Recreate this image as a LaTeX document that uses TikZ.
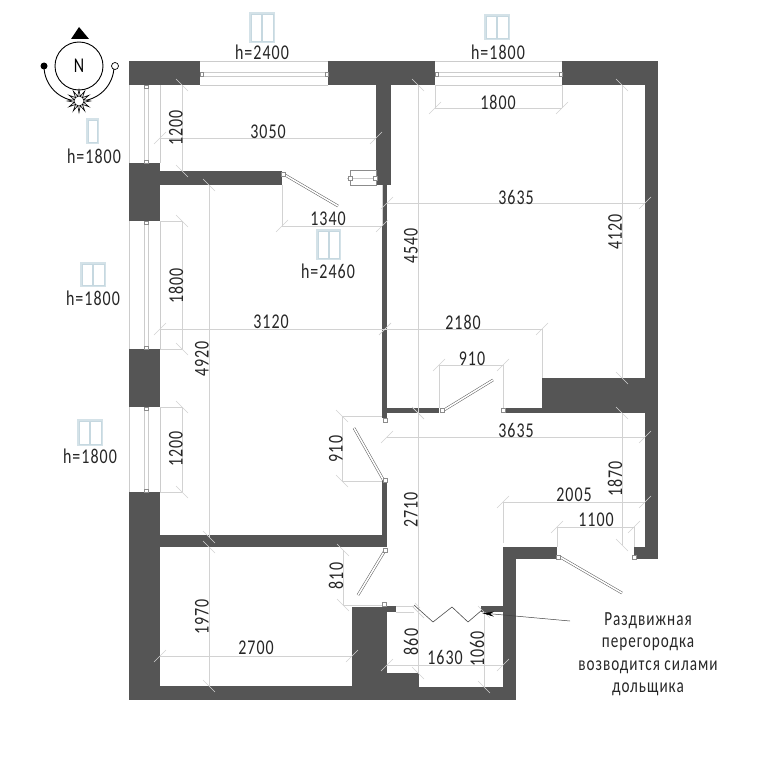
\documentclass[tikz,border=0pt]{standalone}
\usepackage{fontspec}
\setmainfont[FakeStretch=0.76,LetterSpace=5]{Carlito}
\usetikzlibrary{arrows.meta,shapes.geometric}
\definecolor{wallgray}{HTML}{555555}
\definecolor{iconblue}{HTML}{C6D8E0}
\tikzset{
	wall/.style={fill=wallgray},
	dimline/.style={draw=gray!35, line width=0.6pt},
	dimtext/.style={font=\fontsize{21}{21}\selectfont, inner sep=0pt, text=black!85},
	winline/.style={draw=gray!40, line width=0.5pt},
	leaf/.style={draw=black!65, double=white, double distance=1.6pt, line width=0.5pt},
	hinge/.style={draw=black!45, fill=white, line width=0.5pt},
	pane/.style={draw=iconblue, fill=white, line width=0.7pt}
}
\begin{document}
\begin{tikzpicture}[x=1pt, y=-1pt]
	\useasboundingbox (0,0) rectangle (768,768);

	% walls
	\foreach \xa/\ya/\xb/\yb in {129/61/200/85, 328/61/435/85, 562/61/658/85, 645/85/658/559,
		634/547/645/559, 542/378/645/413, 503/408/542/413, 376/85/391/185, 382/185/387/418,
		387/408/439/413, 129/163/160/221, 160/171/282/185, 129/349/160/407, 129/492/160/700,
		160/535/387/547, 382/480/387/547, 129/686/352/700, 352/607/387/700, 387/606/396/612,
		387/673/419/700, 419/687/516/700, 503/547/516/700, 503/547/557/559, 481/606/503/612}
		\fill[wall] (\xa,\ya) rectangle (\xb,\yb);

	% windows
	\foreach \xa/\xb in {200/328, 435/562} {
		\draw[winline] (\xa,61) -- (\xb,61) (\xa,85) -- (\xb,85);
		\draw[winline] (\xa,72) -- (\xb,72) (\xa,76) -- (\xb,76);
		\draw[hinge] (\xa,72) rectangle +(3,4);
		\draw[hinge] (\xb,72) rectangle +(-3,4);
	}
	\foreach \ya/\yb in {85/163, 221/349, 407/492} {
		\draw[winline] (129,\ya) -- (129,\yb) (160,\ya) -- (160,\yb);
		\draw[winline] (144,\ya) -- (144,\yb) (148,\ya) -- (148,\yb);
		\draw[hinge] (144,\ya) rectangle +(4,3);
		\draw[hinge] (144,\yb) rectangle +(4,-3);
	}
	\draw[hinge] (350,170) rectangle (376,185);
	\draw[winline] (347,178) -- (376,178);
	\draw[hinge] (348,176) rectangle +(4,4);
	\draw[hinge] (373,176) rectangle +(4,4);

	% dimensions
	\foreach \xa/\xb/\yy in {435/562/108, 387/645/203, 160/376/138, 282/382/226, 160/385/329,
		385/542/329, 439/503/365, 387/645/437, 503/645/502, 557/634/527, 160/352/656, 387/503/665} {
		\draw[dimline] (\xa,\yy) -- (\xb,\yy);
		\draw[dimline] (\xa,\yy) +(-6,6) -- +(6,-6);
		\draw[dimline] (\xb,\yy) +(-6,6) -- +(6,-6);
	}
	\foreach \xx/\ya/\yb in {418/85/413, 622/85/378, 182/85/171, 209/185/537, 182/221/349, 182/407/492,
		342/416/481, 343/550/605, 209/547/686, 418/413/612, 622/413/545, 484/612/687, 418/612/673} {
		\draw[dimline] (\xx,\ya) -- (\xx,\yb);
		\draw[dimline] (\xx,\ya) +(-6,-6) -- +(6,6);
		\draw[dimline] (\xx,\yb) +(-6,-6) -- +(6,6);
	}
	\foreach \xa/\ya/\xb/\yb in {435/85/435/108, 562/85/562/108, 282/185/282/226, 382/185/382/226,
		439/365/439/408, 503/365/503/408, 542/329/542/378, 503/502/503/543, 557/527/557/547,
		634/527/634/547, 160/221/182/221, 160/349/182/349, 160/407/182/407, 160/492/182/492,
		342/416/382/416, 342/481/382/481, 343/605/385/605, 396/606/414/606, 396/612/414/612}
		\draw[dimline] (\xa,\ya) -- (\xb,\yb);

	% doors
	\foreach \xa/\ya/\xb/\yb in {285/175/338/206, 384/481/354/428, 384/552/358/595, 444/410/493/380, 560/557/622/593}
		\draw[leaf] (\xa,\ya) -- (\xb,\yb);
	\foreach \xx/\yy in {283/174, 385/480, 385/550, 442/410, 558/557, 503/410, 634/557, 385/420, 384/604}
		\draw[hinge] (\xx,\yy) +(-2,-2) rectangle +(2,2);

	% partition
	\draw[black!70, line width=0.6pt] (414,605) -- (433,622) -- (452,607) -- (468,622) -- (482,610);
	\draw[dimline] (415,603) -- (420,608);
	\coordinate (notestart) at (570,621);
	\coordinate (notetip) at (482,613);
	\draw[black!75, line width=0.5pt, -{Stealth[length=12pt,width=5pt,black]}] (notestart) -- (notetip);
	\node (partnote) [dimtext, align=center, font=\fontsize{20}{22.5}\selectfont] at (648,654)
		{Раздвижная\\перегородка\\возводится силами\\дольщика};

	% sizes
	\foreach \name/\xx/\yy/\lab in {a/268/132/3050, b/328/219/1340, c/498/102/1800, d/516/197/3635, e/271/322/3120,
		f/463/322/2180, g/472/359/910, h/516/430/3635, i/574/495/2005, j/596/520/1100, k/256/648/2700, l/445/657/1630}
		\node (size\name) [dimtext] at (\xx,\yy) {\lab};
	\foreach \name/\xx/\yy/\lab in {a/176/128/1200, b/411/246/4540, c/615/232/4120, d/176/286/1800, e/202/359/4920,
		f/176/449/1200, g/336/449/910, h/411/510/2710, i/615/479/1870, j/336/576/810, k/202/617/1970,
		l/411/642/860, m/477/649/1060}
		\node (vsize\name) [dimtext, rotate=90] at (\xx,\yy) {\lab};

	% window icons
	\foreach \xa/\ya/\xb/\yb in {249/12/275/43, 484/14/510/40, 80/262/106/287, 77/419/103/446, 316/229/341/260} {
		\fill[iconblue!75] (\xa,\ya) rectangle (\xb,\yb);
		\draw[pane] (\xa+2,\ya+2) rectangle ({(\xa+\xb)/2-0.5},\yb-2);
		\draw[pane] ({(\xa+\xb)/2+0.5},\ya+2) rectangle (\xb-2,\yb-2);
	}
	\fill[iconblue!75] (86,118) rectangle (99,144);
	\draw[pane] (88,120) rectangle (97,142);
	\foreach \name/\xx/\yy/\lab in {a/262/52/2400, b/498/52/1800, c/94/156/1800, d/93/298/1800, e/90/456/1800, f/328/271/2460}
		\node (height\name) [dimtext] at (\xx,\yy) {h=\lab};

	% compass
	\draw[line width=0.9pt] (44,66) arc (180:0:35);
	\node (north) [circle, draw, line width=0.9pt, fill=white, minimum size=48pt, inner sep=0pt,
		font=\fontsize{21}{21}\selectfont] at (79,66) {N};
	\fill (71,39) -- (79,27) -- (89,39) -- cycle;
	\fill (44,66) circle (3.5);
	\draw[fill=white, line width=0.7pt] (115,66) circle (3.5);
	\node (sun) [star, star points=12, star point ratio=2.4, draw, fill=white, line width=0.6pt,
		minimum size=23pt, inner sep=0pt] at (79,101) {};
	\draw[line width=0.6pt] (sun.center) circle (5);
\end{tikzpicture}
\end{document}
